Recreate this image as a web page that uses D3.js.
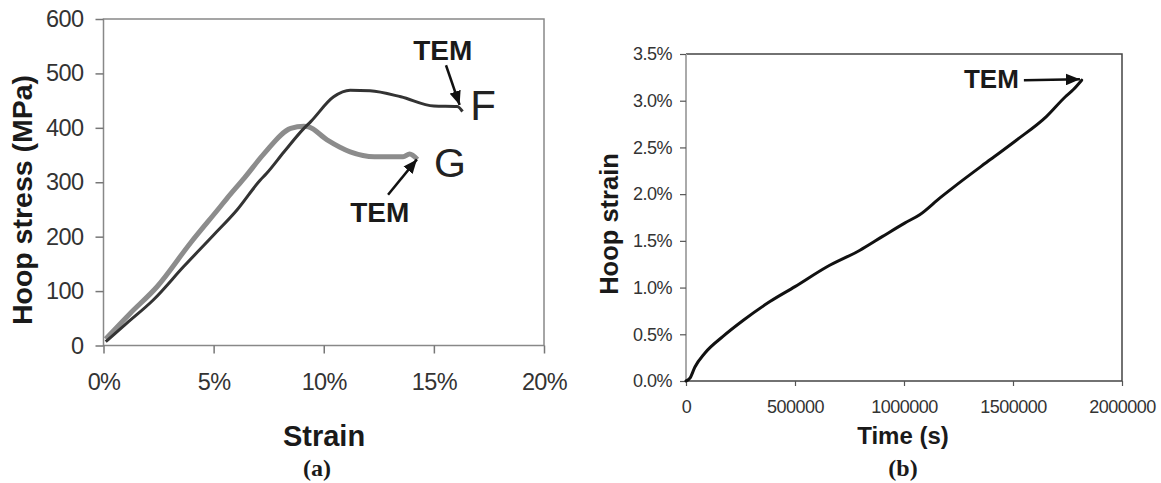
<!DOCTYPE html>
<html>
<head>
<meta charset="utf-8">
<script src="https://cdn.jsdelivr.net/npm/d3@7"></script>
<style>
  body { margin: 0; background: #fff; }
  svg { display: block; font-family: "Liberation Sans", Arial, sans-serif; }
</style>
</head>
<body>
<svg id="chart" width="1161" height="483"></svg>
<script>
// Panel (a): hoop stress vs strain for samples F and G
const strainF = [0.001, 0.0106, 0.0227, 0.0364, 0.050, 0.0606, 0.0712, 0.074, 0.082, 0.091, 0.094, 0.1045, 0.112, 0.121, 0.135, 0.150, 0.1606, 0.163];
const stressF = [7, 41, 84, 145, 203, 249, 304, 316, 356, 399, 411, 457, 469, 468, 457, 440, 439, 430];
const strainG = [0.001, 0.0121, 0.0243, 0.0394, 0.053, 0.056, 0.064, 0.073, 0.085, 0.091, 0.093, 0.1015, 0.112, 0.123, 0.136, 0.139, 0.1425];
const stressG = [12, 59, 108, 188, 255, 270, 308, 353, 399, 403, 402, 378, 356, 347, 347, 352, 342];
const ticksA_x = [0, 0.05, 0.10, 0.15, 0.20];
const ticksA_y = [0, 100, 200, 300, 400, 500, 600];

// Panel (b): hoop strain vs time
const timeB = [0, 18000, 41000, 87000, 171000, 263000, 385000, 500000, 645000, 798000, 900000, 1003000, 1072000, 1165000, 1225000, 1396000, 1517000, 1653000, 1739000, 1777000, 1815000];
const hoopB = [0.0, 0.0003, 0.0015, 0.0030, 0.0048, 0.0065, 0.0085, 0.0101, 0.0122, 0.0140, 0.01545, 0.0169, 0.0178, 0.0196, 0.0207, 0.0237, 0.0258, 0.0283, 0.0304, 0.0312, 0.0322];
const ticksB_x = [0, 500000, 1000000, 1500000, 2000000];
const ticksB_y = [0, 0.005, 0.010, 0.015, 0.020, 0.025, 0.030, 0.035];

const svg = d3.select("#chart");

// arrowhead marker shared by annotations
svg.append("defs").append("marker")
  .attr("id", "head")
  .attr("markerUnits", "userSpaceOnUse")
  .attr("viewBox", "0 0 12 10")
  .attr("refX", 12).attr("refY", 5)
  .attr("markerWidth", 14).attr("markerHeight", 12)
  .attr("orient", "auto")
  .append("path").attr("d", "M0,0L12,5L0,10Z").attr("fill", "#111");

// ---------------- Panel (a) ----------------
const xA = d3.scaleLinear().domain([0, 0.20]).range([103.5, 544]);
const yA = d3.scaleLinear().domain([0, 600]).range([345.5, 19]);

const gA = svg.append("g");

gA.append("rect")
  .attr("x", xA(0)).attr("y", yA(600))
  .attr("width", xA(0.20) - xA(0)).attr("height", yA(0) - yA(600))
  .attr("fill", "none").attr("stroke", "#888").attr("stroke-width", 1.5);

const axA_y = gA.append("g")
  .attr("transform", `translate(${xA(0)},0)`)
  .call(d3.axisLeft(yA).tickValues(ticksA_y).tickSize(8).tickPadding(12).tickSizeOuter(0));
const axA_x = gA.append("g")
  .attr("transform", `translate(0,${yA(0)})`)
  .call(d3.axisBottom(xA).tickValues(ticksA_x).tickFormat(d3.format(".0%")).tickSize(8).tickPadding(20).tickSizeOuter(0));

[axA_y, axA_x].forEach(ax => {
  ax.select(".domain").remove();
  ax.selectAll("line").attr("stroke", "#777").attr("stroke-width", 1.5);
  ax.selectAll("text").attr("fill", "#333").style("font-size", "23.5px")
    .style("letter-spacing", "-0.6px")
    .style("font-family", "'Liberation Sans', Arial, sans-serif");
});

const lineA = d3.line().x(d => xA(d[0])).y(d => yA(d[1])).curve(d3.curveMonotoneX);

gA.append("path")
  .datum(d3.zip(strainG, stressG))
  .attr("fill", "none").attr("stroke", "#8c8c8c").attr("stroke-width", 5)
  .attr("stroke-linejoin", "round")
  .attr("d", lineA);

gA.append("path")
  .datum(d3.zip(strainF, stressF))
  .attr("fill", "none").attr("stroke", "#333").attr("stroke-width", 3)
  .attr("stroke-linejoin", "round")
  .attr("d", lineA);

// labels and TEM arrows
gA.append("text").attr("x", xA(0.1665)).attr("y", yA(414))
  .style("font-size", "42px").attr("fill", "#222").text("F");
gA.append("text").attr("x", xA(0.1500)).attr("y", yA(310))
  .style("font-size", "41px").attr("fill", "#222").text("G");

gA.append("text").attr("x", xA(0.154)).attr("y", yA(525))
  .attr("text-anchor", "middle").style("font-size", "28px").style("font-weight", "bold")
  .attr("fill", "#1a1a1a").text("TEM");
gA.append("line")
  .attr("x1", xA(0.1555)).attr("y1", yA(515)).attr("x2", xA(0.1617)).attr("y2", yA(442))
  .attr("stroke", "#111").attr("stroke-width", 2.5).attr("marker-end", "url(#head)");

gA.append("text").attr("x", xA(0.1254)).attr("y", yA(227))
  .attr("text-anchor", "middle").style("font-size", "28px").style("font-weight", "bold")
  .attr("fill", "#1a1a1a").text("TEM");
gA.append("line")
  .attr("x1", xA(0.1292)).attr("y1", yA(277)).attr("x2", xA(0.1423)).attr("y2", yA(342))
  .attr("stroke", "#111").attr("stroke-width", 2.5).attr("marker-end", "url(#head)");

// axis titles
gA.append("text")
  .attr("transform", "translate(22,200) rotate(-90)")
  .attr("text-anchor", "middle").attr("dominant-baseline", "central")
  .style("font-size", "28.5px").style("font-weight", "bold").attr("fill", "#1a1a1a")
  .text("Hoop stress (MPa)");
gA.append("text").attr("x", 324).attr("y", 446)
  .attr("text-anchor", "middle").style("font-size", "29px").style("font-weight", "bold")
  .attr("fill", "#1a1a1a").text("Strain");
gA.append("text").attr("x", 317).attr("y", 476)
  .attr("text-anchor", "middle").style("font-size", "24px").style("font-weight", "bold")
  .style("font-family", "'Liberation Serif', 'Times New Roman', serif")
  .attr("fill", "#1a1a1a").text("(a)");

// ---------------- Panel (b) ----------------
const xB = d3.scaleLinear().domain([0, 2000000]).range([686, 1122]);
const yB = d3.scaleLinear().domain([0, 0.035]).range([381, 54]);

const gB = svg.append("g");

// frame: dark top/right/bottom, lighter left axis
gB.append("path")
  .attr("d", `M${xB(0)},${yB(0.035)}H${xB(2000000)}V${yB(0)}H${xB(0)}`)
  .attr("fill", "none").attr("stroke", "#444").attr("stroke-width", 1.5);
gB.append("line")
  .attr("x1", xB(0)).attr("x2", xB(0)).attr("y1", yB(0.035)).attr("y2", yB(0))
  .attr("stroke", "#aaa").attr("stroke-width", 2);

const axB_y = gB.append("g")
  .attr("transform", `translate(${xB(0)},0)`)
  .call(d3.axisLeft(yB).tickValues(ticksB_y).tickFormat(d3.format(".1%")).tickSize(6).tickPadding(8).tickSizeOuter(0));
const axB_x = gB.append("g")
  .attr("transform", `translate(0,${yB(0)})`)
  .call(d3.axisBottom(xB).tickValues(ticksB_x).tickFormat(d3.format("d")).tickSize(5).tickPadding(14).tickSizeOuter(0));

[axB_y, axB_x].forEach(ax => {
  ax.select(".domain").remove();
  ax.selectAll("line").attr("stroke", "#555").attr("stroke-width", 1.2);
  ax.selectAll("text").attr("fill", "#333").style("font-size", "18px")
    .style("letter-spacing", "-0.5px")
    .style("font-family", "'Liberation Sans', Arial, sans-serif");
});

gB.append("path")
  .datum(d3.zip(timeB, hoopB))
  .attr("fill", "none").attr("stroke", "#111").attr("stroke-width", 3)
  .attr("stroke-linejoin", "round").attr("stroke-linecap", "round")
  .attr("d", d3.line().x(d => xB(d[0])).y(d => yB(d[1])).curve(d3.curveMonotoneX));

gB.append("text").attr("x", xB(1401000)).attr("y", yB(0.03137))
  .attr("text-anchor", "middle").style("font-size", "26px").style("font-weight", "bold")
  .attr("fill", "#1a1a1a").text("TEM");
gB.append("line")
  .attr("x1", xB(1550000)).attr("y1", yB(0.0322)).attr("x2", xB(1807000)).attr("y2", yB(0.0323))
  .attr("stroke", "#111").attr("stroke-width", 2.5).attr("marker-end", "url(#head)");

gB.append("text")
  .attr("transform", "translate(609,224) rotate(-90)")
  .attr("text-anchor", "middle").attr("dominant-baseline", "central")
  .style("font-size", "25.5px").style("font-weight", "bold").attr("fill", "#1a1a1a")
  .text("Hoop strain");
gB.append("text").attr("x", 903).attr("y", 444)
  .attr("text-anchor", "middle").style("font-size", "24px").style("font-weight", "bold")
  .attr("fill", "#1a1a1a").text("Time (s)");
gB.append("text").attr("x", 903).attr("y", 476)
  .attr("text-anchor", "middle").style("font-size", "24px").style("font-weight", "bold")
  .style("font-family", "'Liberation Serif', 'Times New Roman', serif")
  .attr("fill", "#1a1a1a").text("(b)");
</script>
</body>
</html>
